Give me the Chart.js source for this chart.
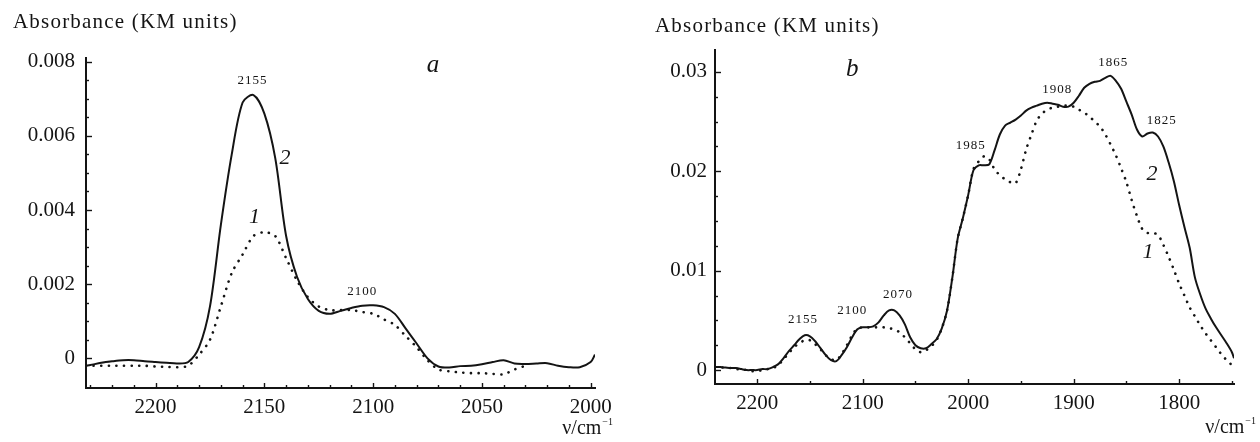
<!DOCTYPE html>
<html>
<head>
<meta charset="utf-8">
<script src="https://cdn.jsdelivr.net/npm/chart.js@4.4.1/dist/chart.umd.min.js"></script>
<style>
  html, body { margin: 0; padding: 0; background: #fff; }
  #wrap { position: relative; width: 1260px; height: 442px; }
  .panel { position: absolute; top: 0; height: 442px; }
  #pa { left: 0; width: 620px; }
  #pb { left: 620px; width: 640px; }
</style>
</head>
<body>
<div id="wrap">
  <div class="panel" id="pa"><canvas id="chartA"></canvas></div>
  <div class="panel" id="pb"><canvas id="chartB"></canvas></div>
</div>
<script>
// ---- panel a: wavenumber (cm-1) and absorbance of curves 1 (dotted) and 2 (solid)
const waveA = [2232, 2230, 2225, 2220, 2215, 2210, 2205, 2200, 2195, 2190, 2185, 2180, 2175, 2170, 2165,
  2160, 2155, 2150, 2145, 2140, 2135, 2130, 2125, 2120, 2115, 2110, 2105, 2100, 2095, 2090, 2085,
  2080, 2075, 2070, 2065, 2060, 2055, 2050, 2045, 2040, 2035, 2030, 2025, 2020, 2015, 2010, 2005, 2000, 1998];
const curve2A = [-0.0002, -0.00018, -0.00012, -0.00008, -0.00005, -0.00005, -0.00008, -0.0001, -0.00012, -0.00014,
  -0.0001, 0.0003, 0.0014, 0.0036, 0.0055, 0.0069, 0.0071, 0.0066, 0.0054, 0.0033, 0.0022, 0.0016, 0.00128,
  0.0012, 0.00128, 0.00136, 0.00142, 0.00143, 0.00138, 0.0012, 0.0008, 0.0004, 0.0, -0.00022, -0.00025,
  -0.00021, -0.0002, -0.00016, -0.0001, -0.00005, -0.00014, -0.00015, -0.00014, -0.00013, -0.0002,
  -0.00024, -0.00024, -0.0001, 0.0001];
const curve1A = [-0.0002, -0.0002, -0.0002, -0.0002, -0.0002, -0.0002, -0.0002, -0.00022, -0.00023, -0.00024,
  -0.0002, 0.0001, 0.0005, 0.0014, 0.0023, 0.0028, 0.0033, 0.0034, 0.0033, 0.0027, 0.0021, 0.00165, 0.0014,
  0.0013, 0.0013, 0.0013, 0.00125, 0.0012, 0.00105, 0.0009, 0.0006, 0.0003, -0.00005, -0.0003, -0.00035,
  -0.00038, -0.0004, -0.0004, -0.00042, -0.00043, -0.0003, -0.0002, null, null, null, null, null, null, null];
const xTicksA = [2200, 2150, 2100, 2050, 2000];
const yTicksA = [0, 0.002, 0.004, 0.006, 0.008];
const peaksA = [['2155', 2155.5, 0.0075], ['2100', 2105, 0.0018]];

// ---- panel b
const waveB = [2240, 2235, 2230, 2225, 2220, 2215, 2210, 2205, 2200, 2195, 2190, 2185, 2180, 2175, 2170, 2165,
  2160, 2155, 2150, 2145, 2140, 2135, 2130, 2125, 2120, 2115, 2110, 2105, 2100, 2095, 2090, 2085, 2080,
  2075, 2070, 2065, 2060, 2055, 2050, 2045, 2040, 2035, 2030, 2025, 2020, 2015, 2010, 2005, 2000, 1995,
  1990, 1985, 1980, 1975, 1970, 1965, 1960, 1955, 1950, 1945, 1940, 1935, 1930, 1925, 1920, 1915, 1910,
  1905, 1900, 1895, 1890, 1885, 1880, 1875, 1870, 1865, 1860, 1855, 1850, 1845, 1840, 1835, 1830, 1825,
  1820, 1815, 1810, 1805, 1800, 1795, 1790, 1785, 1780, 1775, 1770, 1765, 1760, 1755, 1750, 1748];
const curve2B = [0.0003, 0.0003, 0.00025, 0.0002, 0.0002, 0.0001, 0.0, 0.0, 0.0, 0.0001, 0.0001, 0.0003, 0.0006,
  0.0012, 0.0019, 0.0025, 0.0031, 0.0035, 0.0034, 0.0029, 0.0022, 0.0015, 0.001, 0.0009, 0.0015, 0.0023,
  0.0033, 0.0041, 0.0043, 0.0043, 0.0044, 0.0048, 0.0055, 0.006, 0.006, 0.0055, 0.0046, 0.0033, 0.0025,
  0.0022, 0.0022, 0.0026, 0.0031, 0.0042, 0.006, 0.0093, 0.0132, 0.0153, 0.0176, 0.0201, 0.0206, 0.0206,
  0.0207, 0.0221, 0.0237, 0.0246, 0.0249, 0.0252, 0.0256, 0.0261, 0.0264, 0.0266, 0.0268, 0.0269, 0.0268,
  0.0267, 0.0265, 0.0265, 0.0269, 0.0276, 0.0284, 0.0288, 0.029, 0.0291, 0.0294, 0.0296, 0.0291, 0.0283,
  0.027, 0.0257, 0.0242, 0.0235, 0.0238, 0.0239, 0.0235, 0.0225, 0.0209, 0.019, 0.0166, 0.0144, 0.0123,
  0.0093, 0.0076, 0.0062, 0.0052, 0.0043, 0.0035, 0.0027, 0.0018, 0.0012];
const curve1B = [0.0003, 0.0003, 0.0002, 0.0002, 0.0001, 0.0001, 0.0, -0.0001, -0.0001, 0.0, 0.0001, 0.0002, 0.0005,
  0.0011, 0.0017, 0.0023, 0.0027, 0.003, 0.003, 0.0026, 0.0021, 0.0015, 0.0011, 0.001, 0.0016, 0.0025,
  0.0035, 0.0042, 0.0043, 0.0043, 0.0043, 0.0043, 0.0043, 0.0042, 0.0041, 0.0038, 0.0033, 0.0027, 0.0021,
  0.0018, 0.002, 0.0024, 0.003, 0.0042, 0.006, 0.0093, 0.0132, 0.0153, 0.0176, 0.0202, 0.021, 0.0215,
  0.0212, 0.0202, 0.0196, 0.0192, 0.0189, 0.0188, 0.0202, 0.0222, 0.0237, 0.0251, 0.0258, 0.0262, 0.0264,
  0.0265, 0.0266, 0.0266, 0.0265, 0.0262, 0.0259, 0.0255, 0.025, 0.0245, 0.0237, 0.0227, 0.0216, 0.0203,
  0.0189, 0.0171, 0.0155, 0.0142, 0.0138, 0.0138, 0.0136, 0.0126, 0.0114, 0.0101, 0.0087, 0.0075, 0.0063,
  0.0054, 0.0045, 0.0037, 0.003, 0.0023, 0.0016, 0.001, 0.0005, 0.0003];
const xTicksB = [2200, 2100, 2000, 1900, 1800];
const yTicksB = [0, 0.01, 0.02, 0.03];
const peaksB = [['2155', 2156.5, 0.0051], ['2100', 2110, 0.006], ['2070', 2066.5, 0.0076],
  ['1985', 1997.5, 0.0226], ['1908', 1915.5, 0.0282], ['1865', 1862.5, 0.0309], ['1825', 1816.5, 0.0251]];

const serif = "'Liberation Serif', 'DejaVu Serif', serif";
const ink = '#141414';

function toXY(xs, ys) {
  return xs.map((x, i) => ({ x: x, y: ys[i] }));
}

// draws inward tick marks, the axis caption, panel letter, curve numbers and peak labels
function decor(cfg) {
  return {
    id: 'decor',
    afterDraw(chart) {
      const ctx = chart.ctx;
      const xs = chart.scales.x, ys = chart.scales.y;
      const area = chart.chartArea;
      ctx.save();
      ctx.strokeStyle = ink;
      ctx.lineWidth = 1.4;
      for (let v = cfg.yMin; v <= ys.max + 1e-9; v += cfg.yMinor) {
        const major = cfg.yTicks.some(t => Math.abs(t - v) < 1e-9);
        const py = Math.round(ys.getPixelForValue(v)) + 0.5;
        ctx.beginPath();
        ctx.moveTo(area.left, py);
        ctx.lineTo(area.left + (major ? 6 : 3), py);
        ctx.stroke();
      }
      for (let v = cfg.xMin; v <= xs.max + 1e-9; v += cfg.xMinor) {
        const major = cfg.xTicks.indexOf(v) >= 0;
        const px = Math.round(xs.getPixelForValue(v)) + 0.5;
        ctx.beginPath();
        ctx.moveTo(px, area.bottom);
        ctx.lineTo(px, area.bottom - (major ? 5 : 3));
        ctx.stroke();
      }

      ctx.fillStyle = ink;
      ctx.textBaseline = 'alphabetic';
      ctx.textAlign = 'left';
      ctx.font = '21px ' + serif;
      ctx.letterSpacing = '1.2px';
      ctx.fillText('Absorbance (KM units)', cfg.titleX, cfg.titleY);
      ctx.letterSpacing = '0px';

      // unit caption bottom right
      ctx.textAlign = 'right';
      ctx.font = '10px ' + serif;
      const supW = ctx.measureText('\u22121').width;
      ctx.fillText('\u22121', cfg.unitX, cfg.unitY - 9);
      ctx.font = '20px ' + serif;
      ctx.fillText('\u03bd/cm', cfg.unitX - supW - 1, cfg.unitY);

      ctx.textAlign = 'center';
      ctx.textBaseline = 'middle';
      ctx.font = 'italic 25px ' + serif;
      ctx.fillText(cfg.letter[0], xs.getPixelForValue(cfg.letter[1]), ys.getPixelForValue(cfg.letter[2]));
      ctx.font = 'italic 22px ' + serif;
      cfg.curveLabels.forEach(c => {
        ctx.fillText(c[0], xs.getPixelForValue(c[1]), ys.getPixelForValue(c[2]));
      });
      ctx.font = '13px ' + serif;
      ctx.letterSpacing = '1px';
      cfg.peaks.forEach(p => {
        ctx.fillText(p[0], xs.getPixelForValue(p[1]), ys.getPixelForValue(p[2]));
      });
      ctx.restore();
    }
  };
}

function makeChart(id, o) {
  return new Chart(document.getElementById(id).getContext('2d'), {
    type: 'line',
    data: {
      datasets: [
        {
          label: '1',
          data: toXY(o.wave, o.c1),
          borderColor: ink,
          borderWidth: 2.6,
          borderDash: [0.1, 7.5],
          borderCapStyle: 'round',
          pointRadius: 0,
          tension: 0.3,
          spanGaps: false
        },
        {
          label: '2',
          data: toXY(o.wave, o.c2),
          borderColor: ink,
          borderWidth: 2,
          pointRadius: 0,
          tension: 0.3
        }
      ]
    },
    options: {
      responsive: true,
      maintainAspectRatio: false,
      animation: false,
      events: [],
      layout: { padding: { top: o.padTop, right: o.padRight, left: 0, bottom: 0 } },
      plugins: { legend: { display: false }, tooltip: { enabled: false } },
      scales: {
        x: {
          type: 'linear',
          reverse: true,
          min: o.xMin,
          max: o.xMax,
          grid: { display: true, drawOnChartArea: false, drawTicks: false },
          border: { display: true, color: ink, width: 2 },
          afterBuildTicks: s => { s.ticks = o.xTicks.map(v => ({ value: v })); },
          afterFit: s => { s.height = o.xAxisH; },
          ticks: {
            padding: 7,
            color: ink,
            maxRotation: 0,
            font: { family: serif, size: 21 },
            callback: v => String(v)
          }
        },
        y: {
          type: 'linear',
          min: o.yMin,
          max: o.yMax,
          grid: { display: true, drawOnChartArea: false, drawTicks: false },
          border: { display: true, color: ink, width: 2 },
          afterBuildTicks: s => { s.ticks = o.yTicks.map(v => ({ value: v })); },
          afterFit: s => { s.width = o.yAxisW; },
          ticks: {
            padding: o.yPad,
            color: ink,
            font: { family: serif, size: 21 },
            callback: v => (v === 0 ? '0' : String(v))
          }
        }
      }
    },
    plugins: [decor({
      yMin: o.yTicks[0], yMinor: o.yMinor, yTicks: o.yTicks,
      xMin: o.xMinorStart, xMinor: o.xMinor, xTicks: o.xTicks,
      titleX: o.titleX, titleY: o.titleY, unitX: o.unitX, unitY: o.unitY,
      letter: o.letter, curveLabels: o.curveLabels, peaks: o.peaks
    })]
  });
}

makeChart('chartA', {
  wave: waveA, c1: curve1A, c2: curve2A,
  xMin: 1998, xMax: 2232, yMin: -0.0008, yMax: 0.0081,
  xTicks: xTicksA, yTicks: yTicksA,
  yMinor: 0.0005, xMinor: 10, xMinorStart: 2000,
  padTop: 58, padRight: 25, xAxisH: 54, yAxisW: 86, yPad: 11,
  titleX: 13, titleY: 28, unitX: 613, unitY: 434,
  letter: ['a', 2072.5, 0.0079],
  curveLabels: [['2', 2140.5, 0.0054], ['1', 2154.5, 0.0038]],
  peaks: peaksA
});

makeChart('chartB', {
  wave: waveB, c1: curve1B, c2: curve2B,
  xMin: 1748, xMax: 2240, yMin: -0.0014, yMax: 0.0322,
  xTicks: xTicksB, yTicks: yTicksB,
  yMinor: 0.0025, xMinor: 50, xMinorStart: 1750,
  padTop: 50, padRight: 26, xAxisH: 58, yAxisW: 95, yPad: 8,
  titleX: 35, titleY: 32, unitX: 636, unitY: 433,
  letter: ['b', 2110, 0.0302],
  curveLabels: [['2', 1825.8, 0.0197], ['1', 1829.5, 0.0119]],
  peaks: peaksB
});
</script>
</body>
</html>
